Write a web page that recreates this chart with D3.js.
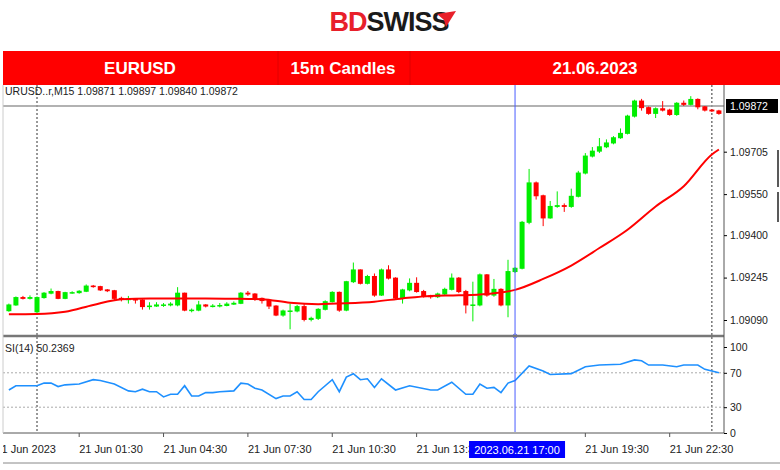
<!DOCTYPE html>
<html><head><meta charset="utf-8">
<script src="https://cdn.jsdelivr.net/npm/d3@7"></script>
<style>body{margin:0;background:#fff}svg{display:block}</style>
</head><body>
<script>
// candle index: 0 = 21 Jun 00:00, one step = 15 minutes
const idxStart = -4;
const opens = [1.09124,1.09145,1.09172,1.09169,1.09120,1.09172,1.09188,1.09194,1.09169,1.09190,1.09190,1.09195,1.09214,1.09212,1.09200,1.09197,1.09169,1.09166,1.09166,1.09163,1.09139,1.09141,1.09145,1.09145,1.09145,1.09188,1.09126,1.09126,1.09145,1.09141,1.09141,1.09143,1.09148,1.09151,1.09188,1.09185,1.09169,1.09161,1.09141,1.09108,1.09123,1.09123,1.09139,1.09092,1.09096,1.09129,1.09157,1.09191,1.09126,1.09230,1.09273,1.09224,1.09249,1.09181,1.09273,1.09243,1.09170,1.09200,1.09224,1.09194,1.09178,1.09175,1.09185,1.09202,1.09243,1.09194,1.09145,1.09145,1.09255,1.09181,1.09202,1.09145,1.09267,1.09279,1.09447,1.09591,1.09544,1.09463,1.09505,1.09508,1.09505,1.09542,1.09627,1.09689,1.09707,1.09723,1.09737,1.09756,1.09772,1.09835,1.09890,1.09866,1.09845,1.09862,1.09857,1.09841,1.09882,1.09878,1.09896,1.09869,1.09857,1.09854];
const closes = [1.09145,1.09172,1.09169,1.09172,1.09172,1.09188,1.09194,1.09169,1.09190,1.09190,1.09195,1.09214,1.09212,1.09200,1.09197,1.09169,1.09166,1.09166,1.09163,1.09139,1.09141,1.09145,1.09145,1.09148,1.09188,1.09126,1.09126,1.09145,1.09141,1.09141,1.09143,1.09148,1.09151,1.09188,1.09185,1.09169,1.09161,1.09141,1.09108,1.09123,1.09123,1.09139,1.09092,1.09096,1.09129,1.09157,1.09191,1.09126,1.09230,1.09273,1.09224,1.09249,1.09181,1.09273,1.09243,1.09170,1.09200,1.09224,1.09194,1.09178,1.09175,1.09185,1.09202,1.09243,1.09194,1.09145,1.09145,1.09255,1.09181,1.09202,1.09145,1.09267,1.09279,1.09447,1.09591,1.09544,1.09463,1.09505,1.09508,1.09505,1.09542,1.09627,1.09689,1.09707,1.09723,1.09737,1.09756,1.09772,1.09835,1.09890,1.09866,1.09845,1.09862,1.09857,1.09841,1.09882,1.09878,1.09896,1.09869,1.09857,1.09854,1.09845];
const highs = [1.09150,1.09176,1.09178,1.09180,1.09176,1.09192,1.09205,1.09197,1.09193,1.09195,1.09199,1.09220,1.09218,1.09215,1.09203,1.09200,1.09175,1.09178,1.09170,1.09166,1.09155,1.09155,1.09152,1.09155,1.09210,1.09190,1.09132,1.09160,1.09148,1.09148,1.09152,1.09155,1.09158,1.09192,1.09196,1.09188,1.09172,1.09164,1.09144,1.09128,1.09150,1.09145,1.09150,1.09102,1.09133,1.09162,1.09195,1.09194,1.09233,1.09300,1.09275,1.09255,1.09260,1.09278,1.09290,1.09246,1.09204,1.09242,1.09246,1.09200,1.09182,1.09190,1.09208,1.09260,1.09247,1.09200,1.09230,1.09260,1.09258,1.09240,1.09206,1.09310,1.09283,1.09452,1.09642,1.09596,1.09548,1.09525,1.09560,1.09516,1.09570,1.09635,1.09700,1.09722,1.09755,1.09750,1.09762,1.09790,1.09840,1.09895,1.09898,1.09870,1.09867,1.09890,1.09862,1.09886,1.09892,1.09908,1.09900,1.09872,1.09860,1.09858];
const lows = [1.09120,1.09142,1.09165,1.09165,1.09112,1.09168,1.09184,1.09166,1.09166,1.09186,1.09186,1.09192,1.09208,1.09196,1.09192,1.09160,1.09158,1.09150,1.09150,1.09128,1.09128,1.09138,1.09138,1.09140,1.09140,1.09122,1.09118,1.09122,1.09136,1.09136,1.09136,1.09140,1.09145,1.09148,1.09178,1.09160,1.09150,1.09130,1.09104,1.09102,1.09056,1.09118,1.09085,1.09085,1.09090,1.09125,1.09154,1.09120,1.09122,1.09225,1.09220,1.09220,1.09175,1.09178,1.09238,1.09165,1.09150,1.09195,1.09190,1.09172,1.09168,1.09170,1.09180,1.09198,1.09188,1.09114,1.09085,1.09140,1.09175,1.09175,1.09140,1.09100,1.09262,1.09275,1.09440,1.09530,1.09433,1.09460,1.09500,1.09485,1.09500,1.09538,1.09622,1.09684,1.09700,1.09718,1.09732,1.09752,1.09768,1.09830,1.09855,1.09840,1.09828,1.09852,1.09836,1.09836,1.09872,1.09874,1.09860,1.09852,1.09850,1.09840];
const maIdx = [-4,0,4,8,12,16,20,24,28,32,36,40,44,48,52,56,60,64,68,72,76,80,84,88,92,96,97];
const maVals = [1.09111,1.09112,1.09120,1.09145,1.09166,1.09169,1.09169,1.09169,1.09168,1.09166,1.09153,1.09148,1.09151,1.09157,1.09169,1.09178,1.09180,1.09185,1.09200,1.09240,1.09289,1.09353,1.09420,1.09505,1.09579,1.09695,1.09713];
const rsiIdx = [-4,-3,0,1,2,3,4,6,8,9,11,13,14,15,16,17,18,19,20,21,22,23,24,25,26,28,29,30,31,32,34,35,36,37,38,39,40,42,43,44,45,46,47,48,49,51,53,56,57,59,61,62,63,64,65,66,67,68,70,72,73,76,78,80,83,85,86,87,89,91,92,94,95,96,97];
const rsiVals = [50,55,55,58,58,54,56,57,62,61,57,49,48,51,48,48,42,45,45,55,43,43,47,47,48,49,58,57,52,50,40,43,43,48,39,39,48,62,48,65,69,62,63,53,63,50,55,50,50,59,45,45,57,52,53,47,58,61,78,72,68,69,77,79,80,85,84,79,79,77,79,79,74,72,70];
const priceTicks = [1.09705,1.09550,1.09400,1.09245,1.09090];
const rsiTicks = [100,70,30,0];
const timeTickIdx = [6,18,30,42,54,78,90];
const timeTickLabels = ["21 Jun 01:30","21 Jun 04:30","21 Jun 07:30","21 Jun 10:30","21 Jun 13:30","21 Jun 19:30","21 Jun 22:30"];
const lastPrice = 1.09872;
const cursorIdx = 68, cursorLabel = "2023.06.21 17:00";
const daySepIdx = [0,96];
const headerTexts = ["EURUSD","15m Candles","21.06.2023"];
const infoText = "URUSD..r,M15  1.09871 1.09897 1.09840 1.09872";
const rsiText = "SI(14) 50.2369";

const W=780,H=470, L=3, R=724;
const svg=d3.select("body").append("svg").attr("width",W).attr("height",H)
  .style("font-family","'Liberation Sans',Arial,sans-serif");
const x=d3.scaleLinear().domain([0,96]).range([37,37+96*7.03]);
const y=d3.scaleLinear().domain([1.09090,1.09872]).range([320,106]);
const yr=d3.scaleLinear().domain([0,100]).range([433,347]);

// logo
const logo=svg.append("text").attr("x",389).attr("y",31).attr("text-anchor","middle")
  .attr("font-size",27).attr("font-weight","bold").attr("letter-spacing","-1");
logo.append("tspan").attr("fill","#e8202a").text("BD");
logo.append("tspan").attr("fill","#1a1a1a").text("SWISS");
svg.append("path").attr("d","M437,14 L456,11 L446,27 L444,20 Z").attr("fill","#e8202a");

// header band
svg.append("rect").attr("x",L).attr("y",51).attr("width",W-L).attr("height",34).attr("fill","#ff0000");
[278,410].forEach(v=>svg.append("line").attr("x1",v).attr("x2",v).attr("y1",51).attr("y2",85).attr("stroke","#e00000"));
[140,343,595].forEach((cx,i)=>svg.append("text").attr("x",cx).attr("y",74).attr("text-anchor","middle")
  .attr("fill","#fff").attr("font-size",17).attr("font-weight","bold").text(headerTexts[i]));

const clip=svg.append("clipPath").attr("id","c").append("rect").attr("x",L).attr("y",85).attr("width",R-L).attr("height",347);
const g=svg.append("g").attr("clip-path","url(#c)");

// separators
daySepIdx.forEach(i=>g.append("line").attr("x1",x(i)).attr("x2",x(i)).attr("y1",85).attr("y2",433)
  .attr("stroke","#333").attr("stroke-dasharray","2,2"));
g.append("line").attr("x1",L).attr("x2",R).attr("y1",y(lastPrice)).attr("y2",y(lastPrice)).attr("stroke","#999").attr("stroke-width",1.5);
[70,30].forEach(v=>g.append("line").attr("x1",L).attr("x2",R).attr("y1",yr(v)).attr("y2",yr(v))
  .attr("stroke","#aaa").attr("stroke-dasharray","2,2"));

// candles
const candles=d3.range(opens.length).map(k=>({i:k+idxStart,o:opens[k],c:closes[k],h:highs[k],l:lows[k]}));
const col=d=>d.c>=d.o?"#00ee00":"#ff0000";
g.selectAll(".w").data(candles).join("line").attr("x1",d=>x(d.i)).attr("x2",d=>x(d.i))
  .attr("y1",d=>y(d.h)).attr("y2",d=>y(d.l)).attr("stroke",col).attr("stroke-width",1);
g.selectAll(".b").data(candles).join("rect").attr("x",d=>x(d.i)-2.5).attr("width",5)
  .attr("y",d=>Math.min(y(d.o),y(d.c))-0.5).attr("height",d=>Math.max(1.5,Math.abs(y(d.o)-y(d.c))+1)).attr("fill",col);

// MA
g.append("path").datum(maIdx.map((v,k)=>[v,maVals[k]])).attr("fill","none").attr("stroke","#ff0000").attr("stroke-width",2)
  .attr("d",d3.line().curve(d3.curveMonotoneX).x(d=>x(d[0])).y(d=>y(d[1])));
// RSI
g.append("path").datum(rsiIdx.map((v,k)=>[v,rsiVals[k]])).attr("fill","none").attr("stroke","#1e90ff").attr("stroke-width",1.6)
  .attr("d",d3.line().x(d=>x(d[0])).y(d=>yr(d[1])));

// cursor
g.append("line").attr("x1",x(cursorIdx)).attr("x2",x(cursorIdx)).attr("y1",85).attr("y2",433).attr("stroke","#4a5cff");
svg.append("circle").attr("cx",x(cursorIdx)).attr("cy",336).attr("r",2).attr("fill","#fff").attr("stroke","#4a5cff");

// frames
svg.append("line").attr("x1",L).attr("x2",R).attr("y1",336).attr("y2",336).attr("stroke","#777").attr("stroke-width",2.5);
svg.append("line").attr("x1",R).attr("x2",R).attr("y1",85).attr("y2",433).attr("stroke","#555");
svg.append("line").attr("x1",L).attr("x2",R).attr("y1",433).attr("y2",433).attr("stroke","#555");
svg.append("line").attr("x1",L).attr("x2",L).attr("y1",85).attr("y2",433).attr("stroke","#ccc");
svg.append("line").attr("x1",L).attr("x2",W).attr("y1",463).attr("y2",463).attr("stroke","#888");
[[150,187],[192,222]].forEach(s=>svg.append("line").attr("x1",778).attr("x2",778).attr("y1",s[0]).attr("y2",s[1]).attr("stroke","#222").attr("stroke-width",1.5));

// texts
svg.append("text").attr("x",5).attr("y",95).attr("font-size",10.5).attr("fill","#222").text(infoText);
svg.append("text").attr("x",5).attr("y",352).attr("font-size",10.5).attr("fill","#222").text(rsiText);

// price axis
const pa=svg.append("g").attr("transform",`translate(${R},0)`).call(d3.axisRight(y).tickValues(priceTicks).tickSize(3).tickFormat(d3.format(".5f")));
pa.select(".domain").remove();
pa.selectAll("text").attr("font-size",10.5).attr("fill","#222").attr("font-family","'Liberation Sans',Arial");
svg.append("rect").attr("x",726).attr("y",y(lastPrice)-7).attr("width",52).attr("height",14).attr("fill","#000");
svg.append("text").attr("x",730).attr("y",y(lastPrice)+4).attr("font-size",10.5).attr("fill","#fff").text(d3.format(".5f")(lastPrice));

const ra=svg.append("g").attr("transform",`translate(${R},0)`).call(d3.axisRight(yr).tickValues(rsiTicks).tickSize(3));
ra.select(".domain").remove();
ra.selectAll("text").attr("font-size",10.5).attr("fill","#222").attr("font-family","'Liberation Sans',Arial");

// time axis
svg.append("clipPath").attr("id","c2").append("rect").attr("x",L).attr("y",433).attr("width",W).attr("height",30);
const ta=svg.append("g").attr("clip-path","url(#c2)");
ta.append("text").attr("x",56).attr("y",453).attr("text-anchor","end").attr("font-size",11).attr("fill","#222").text("21 Jun 2023").attr("dx",0).attr("textLength",null);
timeTickIdx.forEach((t,k)=>{
  ta.append("line").attr("x1",x(t)).attr("x2",x(t)).attr("y1",433).attr("y2",437).attr("stroke","#555");
  ta.append("text").attr("x",x(t)).attr("y",453).attr("font-size",11).attr("fill","#222").text(timeTickLabels[k]);
});
svg.append("rect").attr("x",x(cursorIdx)-46).attr("y",441).attr("width",96).attr("height",17).attr("fill","#0000ff");
svg.append("text").attr("x",x(cursorIdx)+2).attr("y",454).attr("text-anchor","middle").attr("font-size",11).attr("fill","#fff").text(cursorLabel);
</script>
</body></html>
